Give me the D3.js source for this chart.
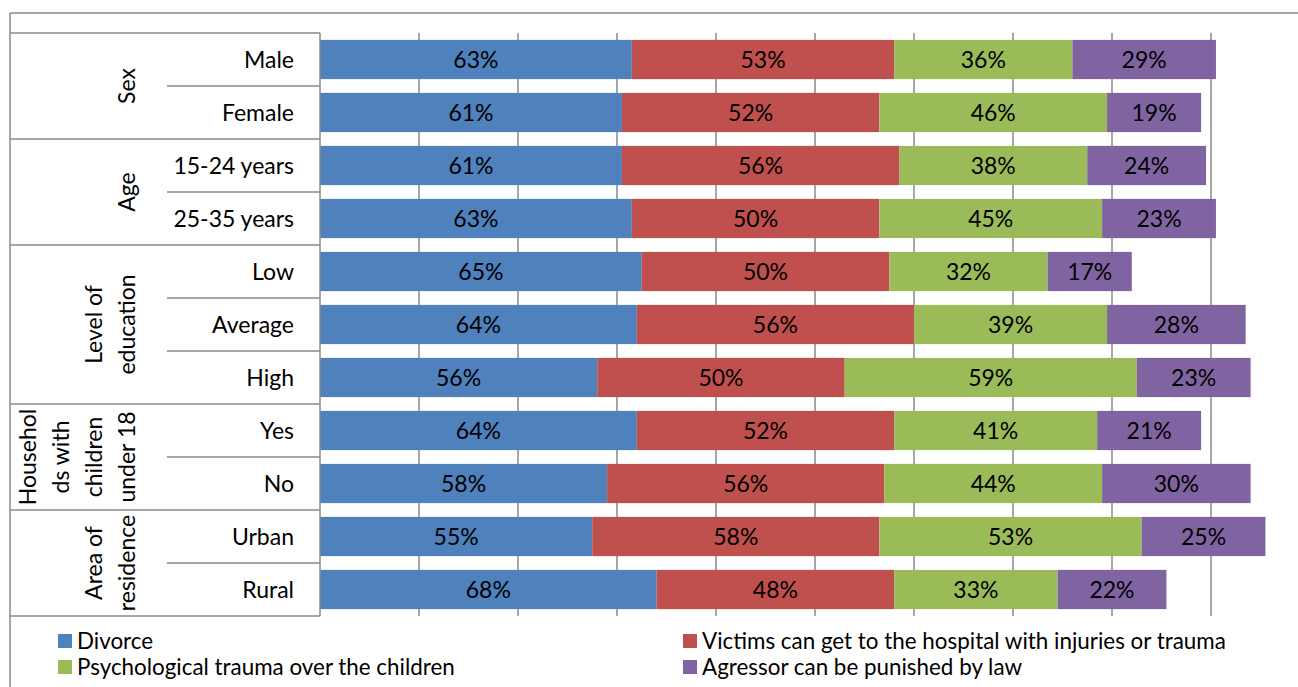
<!DOCTYPE html>
<html>
<head>
<meta charset="utf-8">
<script src="https://cdn.jsdelivr.net/npm/d3@7"></script>
<style>
  html, body { margin: 0; padding: 0; background: #fff; }
  svg { display: block; font-family: Lato, "Open Sans", sans-serif; }
</style>
</head>
<body>
<svg id="chart" width="1298" height="687"></svg>
<script>
// Row categories and the group each belongs to
const categories = ["Male", "Female", "15-24 years", "25-35 years", "Low", "Average", "High", "Yes", "No", "Urban", "Rural"];
const groups = [
  { lines: ["Sex"], rows: ["Male", "Female"] },
  { lines: ["Age"], rows: ["15-24 years", "25-35 years"] },
  { lines: ["Level of", "education"], rows: ["Low", "Average", "High"] },
  { lines: ["Househol", "ds with", "children", "under 18"], rows: ["Yes", "No"] },
  { lines: ["Area of", "residence"], rows: ["Urban", "Rural"] }
];

// Series (percent of respondents)
const seriesNames = [
  "Divorce",
  "Victims can get to the hospital with injuries or trauma",
  "Psychological trauma over the children",
  "Agressor can be punished by law"
];
const divorce      = [63, 61, 61, 63, 65, 64, 56, 64, 58, 55, 68];
const hospital     = [53, 52, 56, 50, 50, 56, 50, 52, 56, 58, 48];
const psychTrauma  = [36, 46, 38, 45, 32, 39, 59, 41, 44, 53, 33];
const punishedLaw  = [29, 19, 24, 23, 17, 28, 23, 21, 30, 25, 22];
const seriesValues = [divorce, hospital, psychTrauma, punishedLaw];
const colors = ["#4F81BD", "#C0504D", "#9BBB59", "#8064A2"];

const xTicks = d3.range(0, 201, 20);

const svg = d3.select("#chart");
const W = 1298, H = 687;
const labelSize = 23;

const x = d3.scaleLinear().domain([0, 200]).range([320, 1310]);
const y = d3.scaleBand().domain(categories).range([33, 616]).paddingInner(0.26).paddingOuter(0.13);

const lineColor = "#8a8a8a";

// Outer frame (top and left edges)
svg.append("line").attr("x1", 10).attr("x2", W).attr("y1", 13).attr("y2", 13)
  .attr("stroke", lineColor).attr("stroke-width", 1.5);
svg.append("line").attr("x1", 10).attr("x2", 10).attr("y1", 13).attr("y2", H)
  .attr("stroke", lineColor).attr("stroke-width", 1.5);

// Vertical gridlines
const plotTop = y.range()[0], plotBottom = y.range()[1];
svg.append("g").selectAll("line").data(xTicks.slice(1)).join("line")
  .attr("x1", d => x(d)).attr("x2", d => x(d))
  .attr("y1", plotTop).attr("y2", plotBottom)
  .attr("stroke", lineColor).attr("stroke-width", 1.5);

// Stacked segments
const stacked = categories.map((c, i) => {
  let acc = 0;
  return seriesValues.map((vals, s) => {
    const seg = { cat: c, s, x0: acc, x1: acc + vals[i], v: vals[i] };
    acc += vals[i];
    return seg;
  });
}).flat();

const bars = svg.append("g");
bars.selectAll("rect").data(stacked).join("rect")
  .attr("x", d => x(d.x0))
  .attr("width", d => x(d.x1) - x(d.x0))
  .attr("y", d => y(d.cat))
  .attr("height", y.bandwidth())
  .attr("fill", d => colors[d.s]);

bars.selectAll("text").data(stacked).join("text")
  .attr("x", d => (x(d.x0) + x(d.x1)) / 2)
  .attr("y", d => y(d.cat) + y.bandwidth() / 2)
  .attr("dy", "0.36em")
  .attr("text-anchor", "middle")
  .attr("font-size", labelSize)
  .attr("fill", "#000")
  .text(d => d.v + "%");

// Category table on the left
const table = svg.append("g");
const step = y.step();
const rowTop = c => y(c) - (step - y.bandwidth()) / 2;

// vertical axis line
table.append("line").attr("x1", 320).attr("x2", 320).attr("y1", plotTop).attr("y2", plotBottom)
  .attr("stroke", lineColor).attr("stroke-width", 1.5);

// group boundaries
const groupEdges = [plotTop];
groups.forEach(g => groupEdges.push(rowTop(g.rows[g.rows.length - 1]) + step));
table.selectAll("line.g").data(groupEdges).join("line").attr("class", "g")
  .attr("x1", 10).attr("x2", 320).attr("y1", d => d).attr("y2", d => d)
  .attr("stroke", lineColor).attr("stroke-width", 1.5);

// separators between rows within a group
const innerEdges = [];
groups.forEach(g => g.rows.slice(1).forEach(r => innerEdges.push(rowTop(r))));
table.selectAll("line.r").data(innerEdges).join("line").attr("class", "r")
  .attr("x1", 167).attr("x2", 320).attr("y1", d => d).attr("y2", d => d)
  .attr("stroke", lineColor).attr("stroke-width", 1.5);

// row labels
table.selectAll("text.row").data(categories).join("text").attr("class", "row")
  .attr("x", 294)
  .attr("y", d => y(d) + y.bandwidth() / 2)
  .attr("dy", "0.36em")
  .attr("text-anchor", "end")
  .attr("font-size", labelSize)
  .text(d => d);

// rotated group labels
groups.forEach(g => {
  const top = rowTop(g.rows[0]);
  const bottom = rowTop(g.rows[g.rows.length - 1]) + step;
  const cy = (top + bottom) / 2;
  const n = g.lines.length;
  g.lines.forEach((ln, i) => {
    const cx = 127 - (n - 1 - i) * 33;
    table.append("text")
      .attr("transform", `translate(${cx},${cy}) rotate(-90)`)
      .attr("text-anchor", "middle")
      .attr("dy", "0.36em")
      .attr("font-size", labelSize)
      .text(ln);
  });
});

// Legend
const legendItems = [
  { name: seriesNames[0], color: colors[0], x: 58, y: 641 },
  { name: seriesNames[1], color: colors[1], x: 683, y: 641 },
  { name: seriesNames[2], color: colors[2], x: 58, y: 667 },
  { name: seriesNames[3], color: colors[3], x: 683, y: 667 }
];
const legend = svg.append("g");
const lg = legend.selectAll("g").data(legendItems).join("g")
  .attr("transform", d => `translate(${d.x},${d.y})`);
lg.append("rect").attr("x", 0).attr("y", -7).attr("width", 14).attr("height", 14)
  .attr("fill", d => d.color);
lg.append("text").attr("x", 19).attr("dy", "0.36em").attr("font-size", 22.4)
  .text(d => d.name);
</script>
</body>
</html>
